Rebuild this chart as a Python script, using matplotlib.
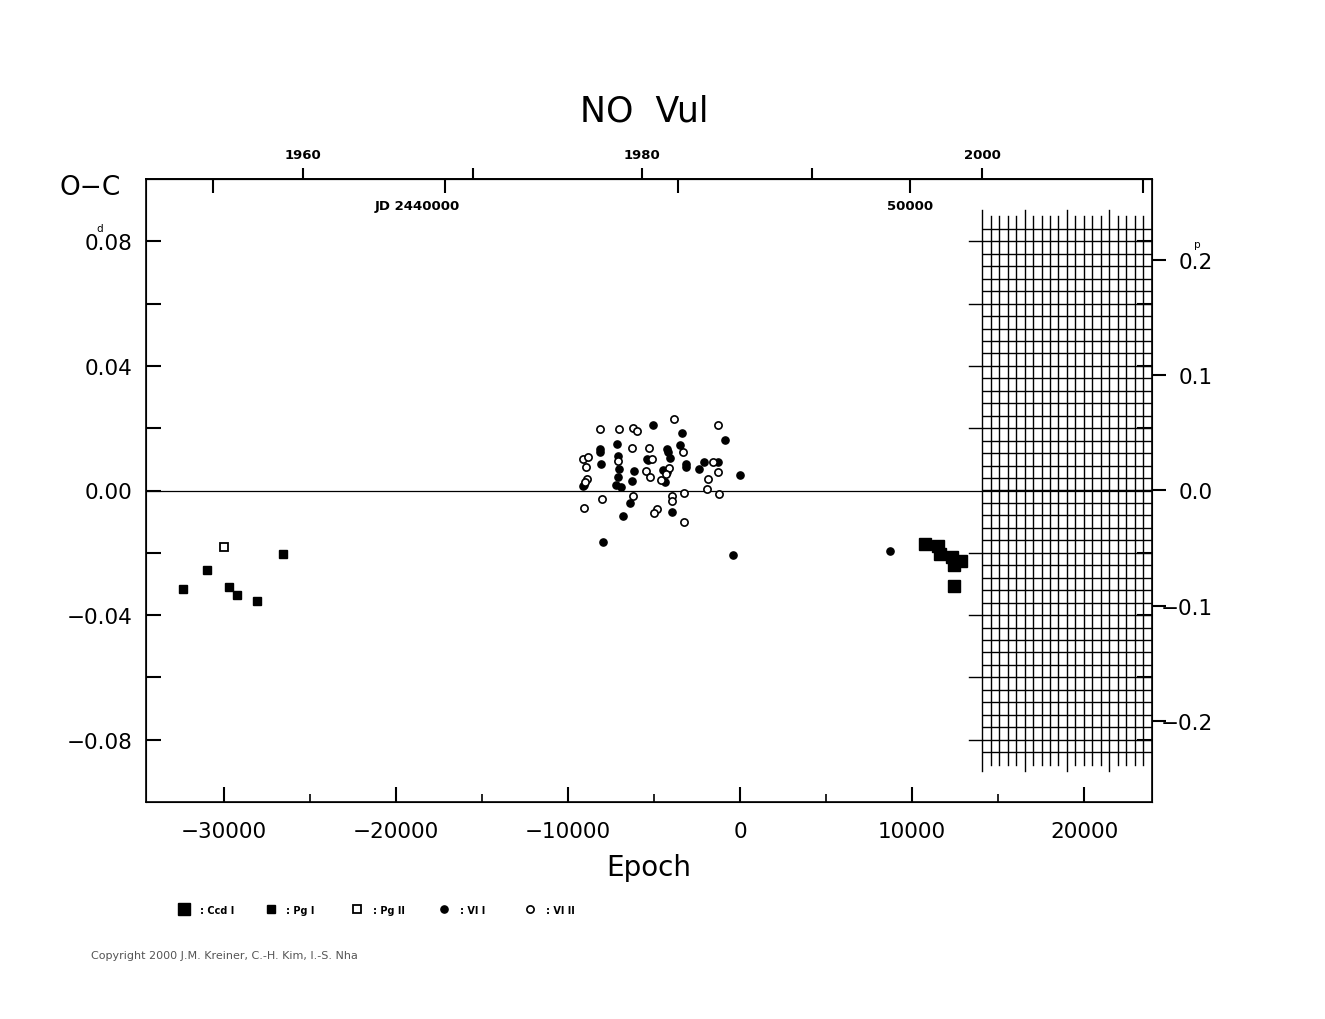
import matplotlib
matplotlib.use('Agg')
import matplotlib.pyplot as plt
from matplotlib.lines import Line2D
import numpy as np

# ephemeris used for the time axes
P = 0.3699
JD0 = 2446340.0

def ep2jd(e): return JD0 + np.asarray(e) * P
def jd2ep(j): return (np.asarray(j) - JD0) / P
def ep2yr(e): return 2000.0 + (ep2jd(e) - 2451544.5) / 365.25
def yr2ep(y): return jd2ep(2451544.5 + (np.asarray(y) - 2000.0) * 365.25)

# --- data ---
ccd1_e = [10756, 11494, 11628, 12343, 12849, 12459, 12442]
ccd1_oc = [-0.0173, -0.0178, -0.0205, -0.0215, -0.0225, -0.0239, -0.0306]

pg1_e = [-32366, -31006, -29692, -29227, -28099, -26587]
pg1_oc = [-0.0316, -0.0255, -0.0309, -0.0337, -0.0356, -0.0205]

pg2_e = [-29983]
pg2_oc = [-0.0180]

vi1_e = [-5076, -3390, -872, -3488, -7134, -8122, -8122, -4227, -4169, -4070,
         -7110, -8081, -5390, -5331, -3157, -3157, -2093, -1297, -7035, -6145,
         -4459, -4262, -2366, 0, -7110, -6262, -4360, -7209, -6901, -9145,
         -9070, -6395, -6785, -3953, -7983, -424, 8721]
vi1_oc = [0.0209, 0.0186, 0.0163, 0.0147, 0.0148, 0.0134, 0.0124, 0.0134, 0.0124, 0.0105,
          0.0111, 0.0086, 0.0102, 0.0097, 0.0084, 0.0076, 0.0092, 0.0092, 0.0070, 0.0062,
          0.0067, 0.0060, 0.0068, 0.0051, 0.0044, 0.0031, 0.0028, 0.0017, 0.0012, 0.0014,
          0.0019, -0.0039, -0.0081, -0.0070, -0.0164, -0.0207, -0.0195]

vi2_e = [-8140, -7035, -6204, -5971, -3837, -1262, -9145, -8855, -8953, -8913,
         -8994, -6297, -7110, -5291, -5099, -5465, -5233, -4593, -4110, -4302,
         -3297, -1552, -1297, -1878, -1901, -1203, -3256, -8041, -9087, -6204,
         -3953, -3936, -4808, -5017, -3256]
vi2_oc = [0.0198, 0.0196, 0.0201, 0.0191, 0.0228, 0.0209, 0.0102, 0.0109, 0.0076, 0.0038,
          0.0028, 0.0137, 0.0094, 0.0137, 0.0100, 0.0062, 0.0042, 0.0033, 0.0073, 0.0054,
          0.0124, 0.0092, 0.0060, 0.0038, 0.0006, -0.0010, -0.0007, -0.0026, -0.0057, -0.0018,
          -0.0017, -0.0033, -0.0058, -0.0071, -0.0101]

series_names = [': Ccd I', ': Pg I', ': Pg II', ': Vl I', ': Vl II']

year_ticks = [1960, 1970, 1980, 1990, 2000]
jd_ticks = [2435000, 2440000, 2445000, 2450000, 2455000]

XMIN, XMAX = -34540, 23950

fig = plt.figure(figsize=(13.25, 10.2), dpi=100)
ax = fig.add_axes([146/1325, 1 - 803/1020, (1152-146)/1325, (803-180)/1020])
ax.set_xlim(XMIN, XMAX)
ax.set_ylim(-0.1, 0.1)
for s in ax.spines.values():
    s.set_linewidth(1.2)

styles = [
    dict(marker='s', ms=8, mfc='k', mec='k'),
    dict(marker='s', ms=5.5, mfc='k', mec='k'),
    dict(marker='s', ms=5.5, mfc='w', mec='k', mew=1.3),
    dict(marker='o', ms=5.2, mfc='k', mec='k'),
    dict(marker='o', ms=5.2, mfc='w', mec='k', mew=1.2),
]
sets = [(ccd1_e, ccd1_oc), (pg1_e, pg1_oc), (pg2_e, pg2_oc), (vi1_e, vi1_oc), (vi2_e, vi2_oc)]
for (e, oc), st in zip(sets, styles):
    ax.plot(e, oc, ls='none', zorder=3, **st)

ax.axhline(0, color='k', lw=0.9)

# future grid (half-year steps)
gx = np.arange(2000, 2009.6, 0.5)
for i, yv in enumerate(gx):
    h = 0.09 if i % 5 == 0 else 0.088
    ax.plot([yr2ep(yv)] * 2, [-h, h], 'k-', lw=1.0)
ax.hlines(np.arange(-0.084, 0.0841, 0.004), yr2ep(2000), XMAX, colors='k', lw=1.0)
for v in [-0.08, -0.06, -0.04, -0.02, 0.02, 0.04, 0.06, 0.08]:
    ax.plot([yr2ep(1999.25), yr2ep(2000)], [v, v], 'k-', lw=1.0)

# bottom axis
ax.set_xticks([-30000, -20000, -10000, 0, 10000, 20000])
ax.set_xticks(np.arange(-30000, 23000, 5000), minor=True)
ax.tick_params(axis='x', which='major', direction='in', length=11, width=1.5,
               labelsize=15.5, pad=14, top=False)
ax.tick_params(axis='x', which='minor', direction='in', length=6, width=1.2, top=False)
ax.set_xlabel('Epoch', fontsize=20, labelpad=8)

# left axis
ax.set_yticks([-0.08, -0.04, 0.0, 0.04, 0.08])
ax.set_yticklabels(['\u22120.08', '\u22120.04', '0.00', '0.04', '0.08'])
ax.set_yticks([-0.06, -0.02, 0.02, 0.06], minor=True)

# right axis in phase units
ax2 = ax.twinx()
ax2.set_ylim(-0.1 / P, 0.1 / P)
ax2.set_yticks([-0.2, -0.1, 0.0, 0.1, 0.2])
ax2.set_yticklabels(['\u22120.2', '\u22120.1', '0.0', '0.1', '0.2'])
ax2.tick_params(axis='y', direction='out', length=10, width=1.5, labelsize=15.5, pad=34)
for t in ax2.get_yticklabels():
    t.set_ha('right')
ax.tick_params(axis='y', which='both', direction='in', length=11, width=1.5,
               labelsize=15.5, pad=10, left=True, right=True)

# top axes: years outward, JD inward
secy = ax.secondary_xaxis('top', functions=(ep2yr, yr2ep))
secy.set_xticks(year_ticks)
secy.set_xticklabels(['1960', '', '1980', '', '2000'])
secy.tick_params(direction='out', length=8, width=1.5, labelsize=9.5, pad=5)
for t in secy.get_xticklabels():
    t.set_fontweight('bold')
secy.spines['top'].set_linewidth(1.2)

secj = ax.secondary_xaxis('top', functions=(ep2jd, jd2ep))
secj.set_xticks(jd_ticks)
secj.set_xticklabels([])
secj.tick_params(direction='in', length=10, width=1.5)
ax.text(jd2ep(2440000) + 850, 0.0915, 'JD 2440000', ha='right', va='center',
        fontsize=9.5, fontweight='bold')
ax.text(jd2ep(2450000), 0.0915, '50000', ha='center', va='center',
        fontsize=9.5, fontweight='bold')

# titles and decorations
fig.text(0.486, 1 - 112/1020, 'NO  Vul', ha='center', va='center', fontsize=25)
fig.text(90/1325, 1 - 188/1020, 'O\u2212C', ha='center', va='center', fontsize=19)
fig.text(100/1325, 1 - 229/1020, 'd', ha='center', va='center', fontsize=7.5)
fig.text(1197/1325, 1 - 245/1020, 'p', ha='center', va='center', fontsize=7.5)

# legend row
for i, (name, st) in enumerate(zip(series_names, styles)):
    x0 = (184 + i * 86.5) / 1325
    fig.add_artist(Line2D([x0], [1 - 910/1020], transform=fig.transFigure, ls='none', **st))
    fig.text(x0 + 16/1325, 1 - 911/1020, name, ha='left', va='center',
             fontsize=7, fontweight='bold')

fig.text(91/1325, 1 - 956/1020, 'Copyright 2000 J.M. Kreiner, C.-H. Kim, I.-S. Nha',
         ha='left', va='center', fontsize=8, color='#555555')

fig.savefig('out.png', dpi=100)
